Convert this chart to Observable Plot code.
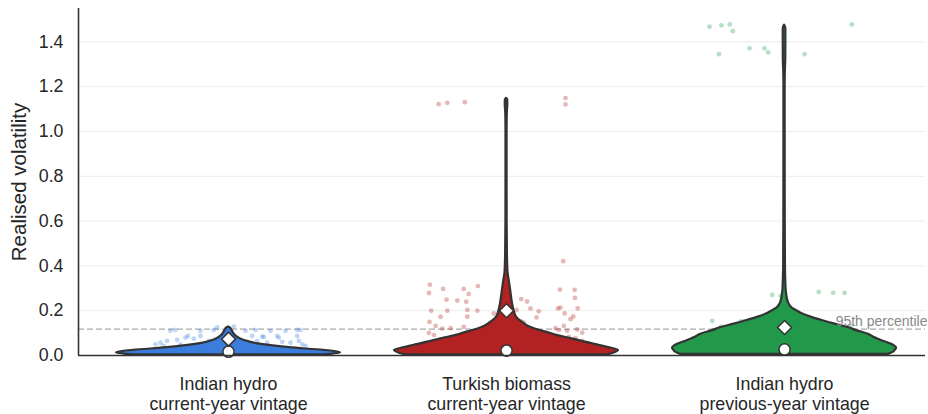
<!DOCTYPE html>
<html><head><meta charset="utf-8">
<script src="https://cdn.jsdelivr.net/npm/d3@7"></script>
<script src="https://cdn.jsdelivr.net/npm/@observablehq/plot@0.6"></script>
<style>body{margin:0;background:#fff;}</style>
</head><body><div id="chart"></div>
<script>
// ---- data ----
const categories = ["Indian hydro\ncurrent-year vintage", "Turkish biomass\ncurrent-year vintage", "Indian hydro\nprevious-year vintage"];
const colors = ["#3b7ddd", "#b22222", "#22994a"];
const yTicks = [0, 0.2, 0.4, 0.6, 0.8, 1.0, 1.2, 1.4];
const p95 = 0.118;
const medians = [0.017, 0.022, 0.027];
const means = [0.073, 0.2, 0.125];

// violin density profiles (arbitrary density units, normalised to width)
const levels0 = [0.003, 0.006, 0.009, 0.0126, 0.018, 0.023, 0.035, 0.053, 0.068, 0.085, 0.1, 0.112, 0.122, 0.128];
const dens0   = [96, 104, 109, 112, 106, 95, 61, 28, 15, 8, 5, 3.5, 2, 0];
const levels1 = [0.003, 0.01, 0.023, 0.035, 0.043, 0.06, 0.073, 0.09, 0.102, 0.117, 0.132, 0.15, 0.17, 0.2, 0.23, 0.26, 0.3, 0.334, 0.37, 0.45, 0.6, 0.8, 1.0, 1.07, 1.1, 1.12, 1.14, 1.148];
const dens1   = [100, 106, 111, 101, 94, 78, 66, 50, 41, 29, 21, 15, 10, 7.5, 6, 5, 3.8, 2.7, 1.5, 0.9, 0.6, 0.55, 0.55, 0.7, 1.0, 1.3, 1.2, 0];
const levels2 = [0.005, 0.015, 0.025, 0.032, 0.05, 0.065, 0.08, 0.095, 0.11, 0.125, 0.14, 0.155, 0.17, 0.185, 0.2, 0.214, 0.23, 0.25, 0.276, 0.3, 0.4, 0.6, 1.0, 1.22, 1.28, 1.32, 1.4, 1.46, 1.475];
const dens2   = [103, 108, 110, 111, 106, 97, 89, 83, 72, 63, 50, 38, 27, 18, 12, 7, 4.5, 3, 2, 1.5, 0.9, 0.7, 0.6, 0.6, 0.9, 1.2, 1.3, 1.3, 0];

// visible strip points: value and jitter offset (in category units)
const strip0 = [0.110,0.114,0.110,0.114,0.129,0.110,0.114,0.110,0.110,0.114,0.057,0.065,0.070,0.080,0.075,0.050,0.087,0.065,0.065,0.087,0.065,0.084,0.057,0.087,0.061,0.057,0.087,0.065,0.050,0.043,0.043,0.050,0.087,0.114,0.125,0.083,0.080];
const jitter0 = [-0.209,-0.191,-0.101,-0.053,0.019,0.061,0.097,0.151,0.205,0.247,-0.245,-0.221,-0.185,-0.155,-0.125,-0.263,-0.101,-0.071,0.043,0.085,0.103,0.121,0.139,0.175,0.193,0.223,0.247,0.253,0.265,0.277,-0.233,-0.173,-0.146,0.259,-0.041,0.127,0.181];
const strip1 = [1.122,1.128,1.131,1.149,1.121,0.316,0.279,0.297,0.297,0.275,0.310,0.249,0.245,0.240,0.200,0.200,0.204,0.200,0.173,0.173,0.150,0.132,0.120,0.122,0.128,0.101,0.091,0.077,0.091,0.110,0.188,0.147,0.421,0.294,0.293,0.257,0.252,0.241,0.204,0.210,0.197,0.210,0.214,0.210,0.188,0.174,0.162,0.170,0.152,0.147,0.132,0.122,0.113,0.110,0.116,0.102,0.102,0.087,0.083,0.077,0.065];
const jitter1 = [-0.244,-0.213,-0.150,0.212,0.212,-0.276,-0.279,-0.228,-0.154,-0.136,-0.103,-0.216,-0.177,-0.145,-0.271,-0.213,-0.141,-0.105,-0.237,-0.141,-0.277,-0.255,-0.231,-0.201,-0.154,-0.279,-0.261,-0.222,-0.165,-0.105,-0.046,-0.043,0.204,0.192,0.245,0.246,0.053,0.074,0.036,0.086,0.116,0.185,0.194,0.256,0.209,0.240,0.230,0.108,0.053,0.062,0.206,0.176,0.188,0.218,0.254,0.272,0.122,0.164,0.224,0.248,0.272];
const strip2 = [1.468,1.474,1.478,1.448,1.345,1.371,1.371,1.353,1.345,1.478,0.270,0.266,0.284,0.280,0.280,0.155,0.129,0.152,0.152,0.129,0.110,0.132,0.095];
const jitter2 = [-0.270,-0.227,-0.197,-0.186,-0.236,-0.126,-0.072,-0.059,0.072,0.242,-0.044,-0.014,0.123,0.175,0.216,-0.260,-0.228,-0.158,-0.146,-0.170,-0.260,0.237,0.273];

// ---- build ----
const levels = [levels0, levels1, levels2];
const dens = [dens0, dens1, dens2];
const strips = [strip0, strip1, strip2];
const jitters = [jitter0, jitter1, jitter2];
const halfWidth = 0.403;
const xDomain = [-0.5396, 2.507];
const ink = "#333333";
const font = "'Liberation Sans', Arial, sans-serif";

const marks = [
  Plot.gridY(yTicks.filter(t => t > 0), {stroke: "#ececec", strokeOpacity: 1, strokeWidth: 1}),
  Plot.ruleY([p95], {stroke: "#aaaaaa", strokeWidth: 1.2, strokeDasharray: "6,3"})
];
[0, 1, 2].forEach(i => {
  const pts = strips[i].map((v, k) => ({x: i + jitters[i][k], y: v}));
  marks.push(Plot.dot(pts, {x: "x", y: "y", r: 2.4, fill: colors[i], fillOpacity: 0.32}));
});
[0, 1, 2].forEach(i => {
  const mx = d3.max(dens[i]);
  const rows = levels[i].map((v, k) => ({y: v, x1: i - dens[i][k] / mx * halfWidth, x2: i + dens[i][k] / mx * halfWidth}));
  marks.push(Plot.areaX(rows, {y: "y", x1: "x1", x2: "x2", fill: colors[i], stroke: ink, strokeWidth: 2.2, strokeLinejoin: "round", curve: "monotone-y"}));
});
marks.push(
  Plot.dot(medians.map((m, i) => ({x: i, y: m})), {x: "x", y: "y", r: 5.6, fill: "white", stroke: ink, strokeWidth: 1.5}),
  Plot.dot(means.map((m, i) => ({x: i, y: m})), {x: "x", y: "y", r: 6.3, symbol: "diamond2", fill: "white", stroke: ink, strokeWidth: 1.5}),
  Plot.ruleY([0], {stroke: ink, strokeWidth: 1.6}),
  Plot.ruleX([xDomain[0]], {stroke: ink, strokeWidth: 1.6}),
  Plot.text([p95], {y: d => d, text: () => "95th percentile", frameAnchor: "right", textAnchor: "end", dx: 2, dy: -8, fill: "#888888", fontSize: 14}),
  Plot.axisY(yTicks, {tickSize: 0, tickPadding: 15, fontSize: 17.8, fill: "#262626", tickFormat: d3.format(".1f"), label: null}),
  Plot.axisX([0, 1, 2], {tickSize: 0, tickPadding: 20, fontSize: 17.8, lineHeight: 1.13, fill: "#262626", tickFormat: i => categories[i], label: null}),
  Plot.text(["Realised volatility"], {frameAnchor: "left", textAnchor: "middle", rotate: -90, dx: -59, fontSize: 20.5, fill: "#262626"})
);

const chart = Plot.plot({
  width: 928,
  height: 414,
  marginTop: 8,
  marginBottom: 59,
  marginLeft: 78,
  marginRight: 3,
  style: {fontFamily: font, background: "white", overflow: "visible"},
  x: {type: "linear", domain: xDomain, axis: null},
  y: {domain: [0, 1.549], axis: null},
  marks
});
document.getElementById("chart").appendChild(chart);
</script></body></html>
